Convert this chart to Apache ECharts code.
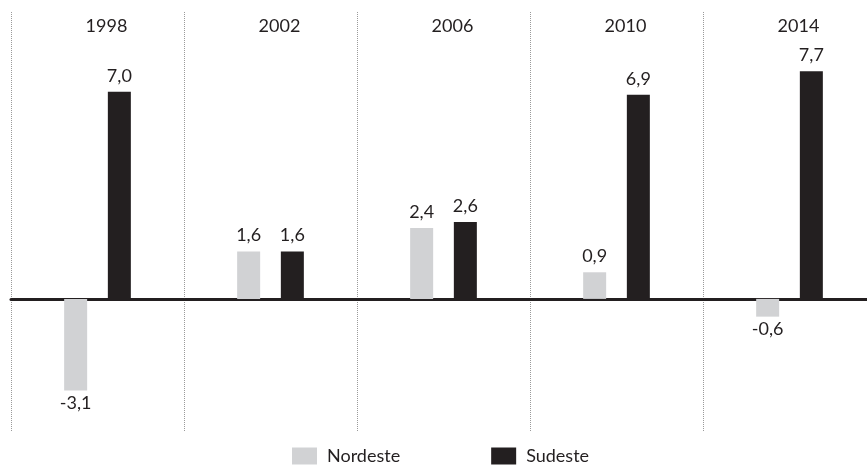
<!DOCTYPE html>
<html>
<head>
<meta charset="utf-8">
<script src="https://cdn.jsdelivr.net/npm/echarts@6/dist/echarts.min.js"></script>
<style>
  html, body { margin: 0; padding: 0; background: #fff; overflow: hidden; }
  /* the plot runs a little past the right edge of the page, so the canvas is wider than the window */
  #chart { width: 880px; height: 468px; }
</style>
</head>
<body>
<div id="chart"></div>
<script>
const years = ['1998', '2002', '2006', '2010', '2014'];
const nordeste = [-3.1, 1.6, 2.4, 0.9, -0.6];
const sudeste = [7.0, 1.6, 2.6, 6.9, 7.7];

const FONT = 'Lato';
const fmt = v => v.toFixed(1).replace('.', ',');

// Negative bars carry their label beneath the bar
function withLabels(values) {
  return values.map(v => ({
    value: v,
    label: { position: v < 0 ? 'bottom' : 'top', distance: v < 0 ? 4 : 7 }
  }));
}

const chart = echarts.init(document.getElementById('chart'), null, { renderer: 'canvas' });
chart.setOption({
  animation: false,
  textStyle: { fontFamily: FONT },
  grid: { left: 11, top: 12, width: 865, height: 420, containLabel: false },
  legend: {
    data: ['Nordeste', 'Sudeste'],
    left: 292, top: 447, padding: 0,
    itemWidth: 25, itemHeight: 17, itemGap: 91,
    icon: 'rect',
    textStyle: { fontFamily: FONT, fontSize: 18, color: '#231f20', padding: [0, 0, 0, 5] }
  },
  xAxis: [
    {
      type: 'category', data: years, position: 'bottom',
      axisLine: { onZero: true, lineStyle: { color: '#231f20', width: 3 } },
      axisTick: { show: false },
      axisLabel: { show: false },
      splitLine: { show: true, lineStyle: { color: '#9a9a9a', type: [1, 1], width: 1 } }
    },
    {
      type: 'category', data: years, position: 'top',
      axisLine: { show: false }, axisTick: { show: false },
      axisLabel: {
        inside: true, margin: 5, color: '#231f20', fontSize: 18, fontFamily: FONT,
        padding: [0, 0, 0, 18]
      },
      splitLine: { show: false }
    }
  ],
  yAxis: {
    type: 'value', min: -4.5, max: 9.7,
    show: false, splitLine: { show: false }
  },
  series: [
    {
      name: 'Nordeste', type: 'bar', xAxisIndex: 0,
      data: withLabels(nordeste),
      barWidth: 23, barGap: '90%',
      itemStyle: { color: '#d1d2d4' },
      label: { show: true, fontSize: 18, color: '#231f20', fontFamily: FONT, formatter: p => fmt(p.value) }
    },
    {
      name: 'Sudeste', type: 'bar', xAxisIndex: 0,
      data: withLabels(sudeste),
      barWidth: 23, barGap: '90%',
      itemStyle: { color: '#231f20' },
      label: { show: true, fontSize: 18, color: '#231f20', fontFamily: FONT, formatter: p => fmt(p.value) }
    }
  ]
});
</script>
</body>
</html>
